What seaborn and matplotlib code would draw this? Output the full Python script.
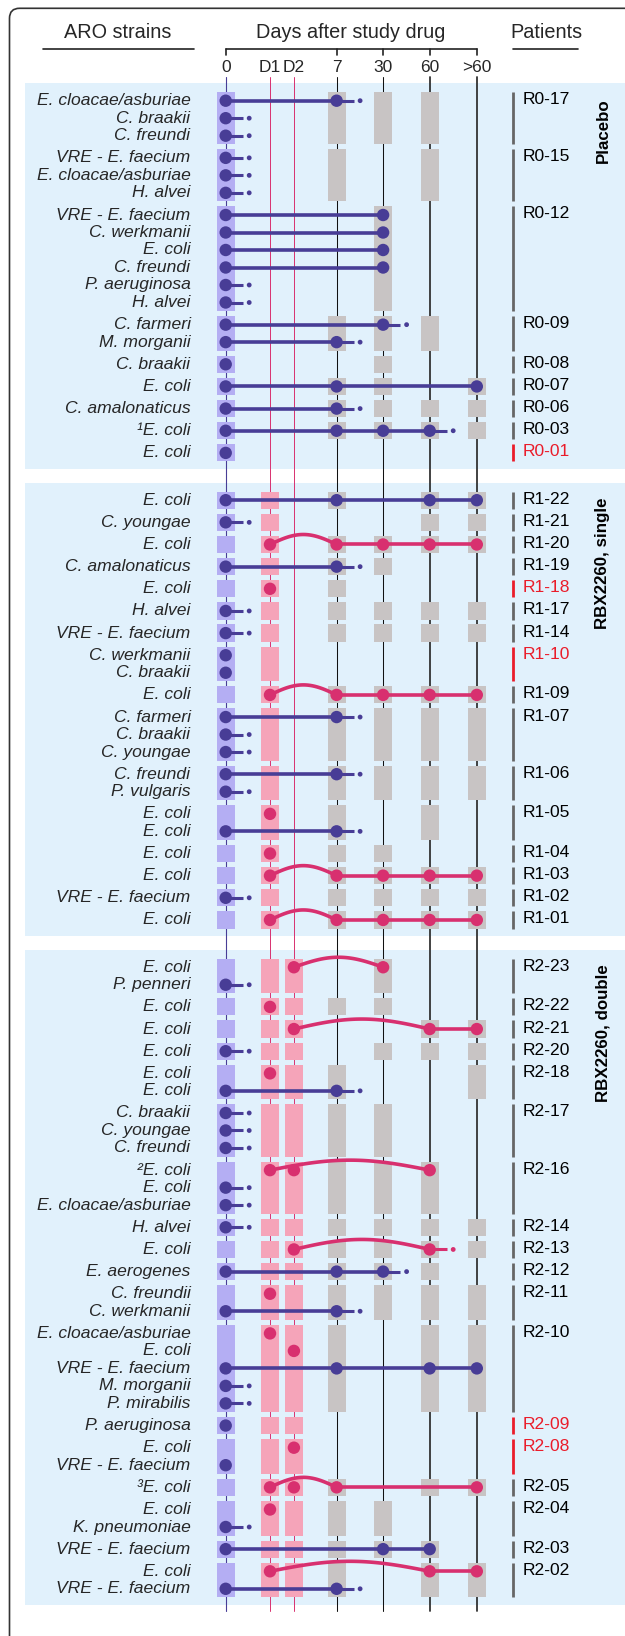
import numpy as np
import pandas as pd
import matplotlib
matplotlib.use('Agg')
import matplotlib.pyplot as plt
from matplotlib.patches import Rectangle, FancyBboxPatch
import seaborn as sns

# ---------------- DATA ----------------
TIME_LABELS = ['0', 'D1', 'D2', '7', '30', '60', '>60']
PANELS = ['Placebo', 'RBX2260, single', 'RBX2260, double']

# strain entries: (name, kind, detected timepoints, trailing "lost" dash)
# kind: 'b' = baseline ARO strain, 'p' = RBX2660-derived strain
placebo_patients = ['R0-17', 'R0-15', 'R0-12', 'R0-09', 'R0-08', 'R0-07', 'R0-06', 'R0-03', 'R0-01']
placebo_samples = ['0 7 30 60', '0 7 60', '0 30', '0 7 30 60', '0 30', '0 7 30 >60',
                   '0 7 30 60 >60', '0 7 30 60 >60', '0']
placebo_strains = [
    [('E. cloacae/asburiae', 'b', '0 7', 1), ('C. braakii', 'b', '0', 1), ('C. freundi', 'b', '0', 1)],
    [('VRE - E. faecium', 'b', '0', 1), ('E. cloacae/asburiae', 'b', '0', 1), ('H. alvei', 'b', '0', 1)],
    [('VRE - E. faecium', 'b', '0 30', 0), ('C. werkmanii', 'b', '0 30', 0), ('E. coli', 'b', '0 30', 0),
     ('C. freundi', 'b', '0 30', 0), ('P. aeruginosa', 'b', '0', 1), ('H. alvei', 'b', '0', 1)],
    [('C. farmeri', 'b', '0 30', 1), ('M. morganii', 'b', '0 7', 1)],
    [('C. braakii', 'b', '0', 0)],
    [('E. coli', 'b', '0 7 >60', 0)],
    [('C. amalonaticus', 'b', '0 7', 1)],
    [('¹E. coli', 'b', '0 7 30 60', 1)],
    [('E. coli', 'b', '0', 0)],
]

single_patients = ['R1-22', 'R1-21', 'R1-20', 'R1-19', 'R1-18', 'R1-17', 'R1-14', 'R1-10',
                   'R1-09', 'R1-07', 'R1-06', 'R1-05', 'R1-04', 'R1-03', 'R1-02', 'R1-01']
single_samples = ['0 D1 7 60 >60', '0 D1 60 >60', '0 D1 7 30 60 >60', '0 D1 7 30', '0 D1 7',
                  '0 D1 7 30 60 >60', '0 D1 7 30 60 >60', '0 D1', '0 D1 7 30 60 >60',
                  '0 D1 7 30 60 >60', '0 D1 7 30 60 >60', '0 D1 7 60', '0 D1 7 30',
                  '0 D1 7 30 60 >60', '0 D1 7 30 60 >60', '0 D1 7 30 60 >60']
single_strains = [
    [('E. coli', 'b', '0 7 60 >60', 0)],
    [('C. youngae', 'b', '0', 1)],
    [('E. coli', 'p', 'D1 7 30 60 >60', 0)],
    [('C. amalonaticus', 'b', '0 7', 1)],
    [('E. coli', 'p', 'D1', 0)],
    [('H. alvei', 'b', '0', 1)],
    [('VRE - E. faecium', 'b', '0', 1)],
    [('C. werkmanii', 'b', '0', 0), ('C. braakii', 'b', '0', 0)],
    [('E. coli', 'p', 'D1 7 30 60 >60', 0)],
    [('C. farmeri', 'b', '0 7', 1), ('C. braakii', 'b', '0', 1), ('C. youngae', 'b', '0', 1)],
    [('C. freundi', 'b', '0 7', 1), ('P. vulgaris', 'b', '0', 1)],
    [('E. coli', 'p', 'D1', 0), ('E. coli', 'b', '0 7', 1)],
    [('E. coli', 'p', 'D1', 0)],
    [('E. coli', 'p', 'D1 7 30 60 >60', 0)],
    [('VRE - E. faecium', 'b', '0', 1)],
    [('E. coli', 'p', 'D1 7 30 60 >60', 0)],
]

double_patients = ['R2-23', 'R2-22', 'R2-21', 'R2-20', 'R2-18', 'R2-17', 'R2-16', 'R2-14', 'R2-13',
                   'R2-12', 'R2-11', 'R2-10', 'R2-09', 'R2-08', 'R2-05', 'R2-04', 'R2-03', 'R2-02']
double_samples = ['0 D1 D2 30', '0 D1 D2 7 30', '0 D1 D2 60 >60', '0 D1 D2 30 60 >60',
                  '0 D1 D2 7 >60', '0 D1 D2 7 30', '0 D1 D2 7 30 60', '0 D1 D2 7 30 60 >60',
                  '0 D1 D2 7 30 60 >60', '0 D1 D2 7 30 60', '0 D1 D2 7 30 60 >60',
                  '0 D1 D2 7 60 >60', '0 D1 D2', '0 D1 D2', '0 D1 D2 7 60 >60',
                  '0 D1 D2 7 30', '0 D1 D2 7 30 60', '0 D1 D2 7 60 >60']
double_strains = [
    [('E. coli', 'p', 'D2 30', 0), ('P. penneri', 'b', '0', 1)],
    [('E. coli', 'p', 'D1', 0)],
    [('E. coli', 'p', 'D2 60 >60', 0)],
    [('E. coli', 'b', '0', 1)],
    [('E. coli', 'p', 'D1', 0), ('E. coli', 'b', '0 7', 1)],
    [('C. braakii', 'b', '0', 1), ('C. youngae', 'b', '0', 1), ('C. freundi', 'b', '0', 1)],
    [('²E. coli', 'p', 'D1 D2 60', 0), ('E. coli', 'b', '0', 1), ('E. cloacae/asburiae', 'b', '0', 1)],
    [('H. alvei', 'b', '0', 1)],
    [('E. coli', 'p', 'D2 60', 1)],
    [('E. aerogenes', 'b', '0 7 30', 1)],
    [('C. freundii', 'p', 'D1', 0), ('C. werkmanii', 'b', '0 7', 1)],
    [('E. cloacae/asburiae', 'p', 'D1', 0), ('E. coli', 'p', 'D2', 0),
     ('VRE - E. faecium', 'b', '0 7 60 >60', 0), ('M. morganii', 'b', '0', 1),
     ('P. mirabilis', 'b', '0', 1)],
    [('P. aeruginosa', 'b', '0', 0)],
    [('E. coli', 'p', 'D2', 0), ('VRE - E. faecium', 'b', '0', 0)],
    [('³E. coli', 'p', 'D1 D2 7 >60', 0)],
    [('E. coli', 'p', 'D1', 0), ('K. pneumoniae', 'b', '0', 1)],
    [('VRE - E. faecium', 'b', '0 30 60', 0)],
    [('E. coli', 'p', 'D1 60 >60', 0), ('VRE - E. faecium', 'b', '0 7', 1)],
]

highlighted_patients = ['R0-01', 'R1-18', 'R1-10', 'R2-09', 'R2-08']

# ---------------- LAYOUT / STYLE ----------------
X_POS = {'0': 225.7, 'D1': 270.0, 'D2': 293.9, '7': 336.6, '30': 383.1, '60': 429.7, '>60': 476.8}
ROW_PITCH = 17.5
GROUP_GAP = 4.65
PANEL_GAP = 47.3
FIRST_ROW = 100.7
BOX_W = 18
BOX_HALF = 8.6
ARC_H = 10
LABEL_X = 190.5
BAR_X = 513.4
PAT_X = 522.3
PANEL_LEFT = 25

C_BLUE = '#483d96'
C_PINK = '#d8306f'
C_BOX = {'0': '#b4aef3', 'D1': '#f5a4b9', 'D2': '#f5a4b9'}
C_GREY_BOX = '#c8c4c4'
C_PANEL = '#e1f1fc'
C_RED = '#ea1c2a'
C_BAR = '#666666'

FS = 12.6
FS_TICK = 12.5
FS_HEAD = 14.3

sns.set_theme(style='white')
plt.rcParams['font.family'] = ['Liberation Sans', 'DejaVu Sans']

fig = plt.figure(figsize=(6.25, 16.36), dpi=100)
ax = fig.add_axes([0, 0, 1, 1])

panel_data = [(placebo_patients, placebo_samples, placebo_strains),
              (single_patients, single_samples, single_strains),
              (double_patients, double_samples, double_strains)]

# compute row positions
rows = []
groups = []
panels_extent = []
y = FIRST_ROW
for pi, (pats, samples, strains) in enumerate(panel_data):
    p_first = y
    for gi, (pat, samp, sl) in enumerate(zip(pats, samples, strains)):
        g_first = y
        for (name, kind, det, dash) in sl:
            rows.append(dict(panel=pi, patient=pat, strain=name, kind=kind,
                             det=det.split(), dash=dash, y=y))
            last = y
            y += ROW_PITCH
        groups.append(dict(panel=pi, patient=pat, samples=samp.split(), y0=g_first, y1=last))
        y += GROUP_GAP
    panels_extent.append((p_first, last))
    y = last + PANEL_GAP

# frame
frame = FancyBboxPatch((9.5, 8.3), 800, 1800, boxstyle='round,pad=0,rounding_size=10',
                       fc='white', ec='#333333', lw=1.2, zorder=0)
ax.add_patch(frame)

# panel backgrounds and titles
for pi, (p0, p1) in enumerate(panels_extent):
    top, bot = p0 - 17.5, p1 + 16.5
    ax.add_patch(Rectangle((PANEL_LEFT, top), 700, bot - top, fc=C_PANEL, ec='none', zorder=0.5))
    ax.text(603, top + 15, PANELS[pi], rotation=90, ha='center', va='top',
            fontsize=12.2, fontweight='bold', color='black', zorder=6)

# vertical guide lines
line_styles = {'0': (C_BLUE, 0.8), 'D1': (C_PINK, 0.7), 'D2': (C_PINK, 0.7),
               '7': ('#111111', 0.75), '30': ('#111111', 0.75), '60': ('#333333', 1.3),
               '>60': ('#333333', 1.3)}
y_bottom = panels_extent[-1][1] + 22
for t in TIME_LABELS:
    c, lw = line_styles[t]
    ax.plot([X_POS[t], X_POS[t]], [77, y_bottom], color=c, lw=lw, zorder=1)

# header
ax.text(117.5, 33, 'ARO strains', ha='center', va='center', fontsize=FS_HEAD)
ax.plot([43, 194], [48.5, 48.5], color='#222222', lw=1.2)
ax.text(351, 33, 'Days after study drug', ha='center', va='center', fontsize=FS_HEAD)
ax.plot([X_POS['0'], X_POS['>60']], [48.5, 48.5], color='#222222', lw=1.2)
for t in ['0', '7', '30', '60', '>60']:
    ax.plot([X_POS[t], X_POS[t]], [48.5, 55], color='#222222', lw=1.2)
for t in TIME_LABELS:
    ax.text(X_POS[t], 68, t, ha='center', va='center', fontsize=FS_TICK)
ax.text(546.5, 33, 'Patients', ha='center', va='center', fontsize=FS_HEAD)
ax.plot([513, 578], [48.5, 48.5], color='#222222', lw=1.2)

# sample boxes and patient bars
for g in groups:
    for t in g['samples']:
        c = C_BOX.get(t, C_GREY_BOX)
        ax.add_patch(Rectangle((X_POS[t] - BOX_W / 2, g['y0'] - BOX_HALF), BOX_W,
                               g['y1'] - g['y0'] + 2 * BOX_HALF, fc=c, ec='none', zorder=2))
    red = g['patient'] in highlighted_patients
    ax.plot([BAR_X, BAR_X], [g['y0'] - BOX_HALF, g['y1'] + BOX_HALF],
            color=C_RED if red else C_BAR, lw=2.0, solid_capstyle='butt', zorder=2)
    ax.text(PAT_X, g['y0'] - 1, g['patient'], ha='left', va='center', fontsize=FS,
            color=C_RED if red else 'black', zorder=6)

# strain labels, lines, dashes
pts = []
small = []
for r in rows:
    ax.text(LABEL_X, r['y'], r['strain'], ha='right', va='center', fontsize=FS,
            style='italic', zorder=6)
    col = C_BLUE if r['kind'] == 'b' else C_PINK
    det = r['det']
    xs = [X_POS[t] for t in det]
    yy = r['y']
    for x in xs:
        pts.append(dict(x=x, y=yy, kind=r['kind']))
    if r['kind'] == 'b':
        if len(xs) > 1:
            ax.plot([xs[0], xs[-1]], [yy, yy], color=col, lw=2.6, solid_capstyle='butt', zorder=3)
    else:
        k = next((i for i, t in enumerate(det) if t not in ('D1', 'D2')), None)
        if k is not None:
            tt = np.linspace(0, 1, 60)
            arc_x = xs[0] + (xs[k] - xs[0]) * tt
            arc_y = yy - ARC_H * np.sin(np.pi * tt)
            ax.plot(arc_x, arc_y, color=col, lw=2.6, solid_capstyle='round', zorder=3)
            if k < len(xs) - 1:
                ax.plot([xs[k], xs[-1]], [yy, yy], color=col, lw=2.6, solid_capstyle='butt', zorder=3)
    if r['dash']:
        xl = xs[-1]
        ax.plot([xl, xl + 17], [yy, yy], color=col, lw=2.2, solid_capstyle='butt', zorder=3)
        small.append(dict(x=xl + 23.5, y=yy, kind=r['kind']))

pts_df = pd.DataFrame(pts)
small_df = pd.DataFrame(small)
pal = {'b': C_BLUE, 'p': C_PINK}
sns.scatterplot(data=pts_df, x='x', y='y', hue='kind', palette=pal, s=80, linewidth=0,
                legend=False, ax=ax, zorder=5)
sns.scatterplot(data=small_df, x='x', y='y', hue='kind', palette=pal, s=12, linewidth=0,
                legend=False, ax=ax, zorder=5)
ax.set_xlim(0, 625)
ax.set_ylim(1636, 0)
ax.axis('off')

fig.savefig('out.png', dpi=100)
